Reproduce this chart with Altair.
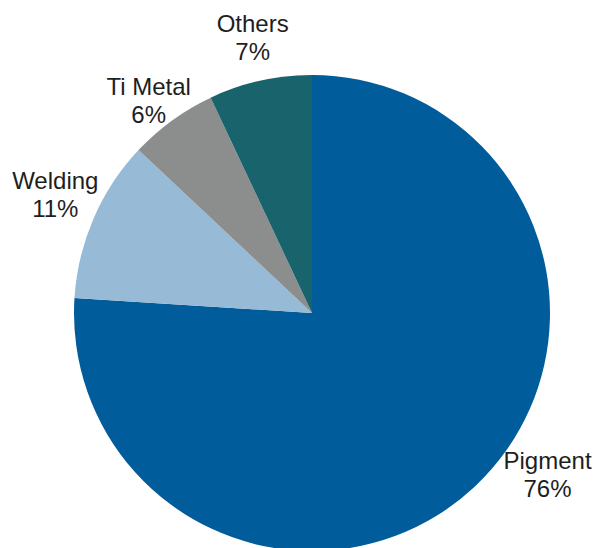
import altair as alt
import pandas as pd

categories = ["Pigment", "Welding", "Ti Metal", "Others"]
shares = [76, 11, 6, 7]
pct_labels = ["76%", "11%", "6%", "7%"]

colors = ["#005C9A", "#97BAD6", "#8C8D8D", "#18636C"]

df = pd.DataFrame({
    "idx": list(range(len(categories))),
    "category": categories,
    "share": shares,
    "label": [c + "\n" + p for c, p in zip(categories, pct_labels)],
})

CX, CY, R = 304, 305, 238
# per-label placement (radius, dx, dy)
label_layout = {
    "Pigment": (290, 37, -62),
    "Welding": (283, 3, -19),
    "Ti Metal": (266, -7, -10),
    "Others": (281, 2, -14),
}

base = alt.Chart(df).encode(
    theta=alt.Theta("share:Q", stack=True),
    order=alt.Order("idx:Q"),
)

pie = base.mark_arc(outerRadius=R).encode(
    color=alt.Color("category:N", scale=alt.Scale(domain=categories, range=colors), legend=None),
    x=alt.value(CX),
    y=alt.value(CY),
)

layers = [pie]
for c in categories:
    r, dx, dy = label_layout[c]
    layers.append(
        base.mark_text(
            radius=r, dx=dx, dy=dy, fontSize=24, font="Liberation Sans",
            lineBreak="\n", lineHeight=28, fill="#1e1e1e",
            align="center", baseline="middle",
        ).encode(
            text=alt.condition(f"datum.category == '{c}'", "label:N", alt.value("")),
            x=alt.value(CX),
            y=alt.value(CY),
        )
    )

chart = alt.layer(*layers).properties(
    width=585, height=540, padding=0, autosize=alt.AutoSizeParams(type="none")
).configure_view(stroke=None)

chart.save("out.html", embed_options={"renderer": "svg", "actions": False})
